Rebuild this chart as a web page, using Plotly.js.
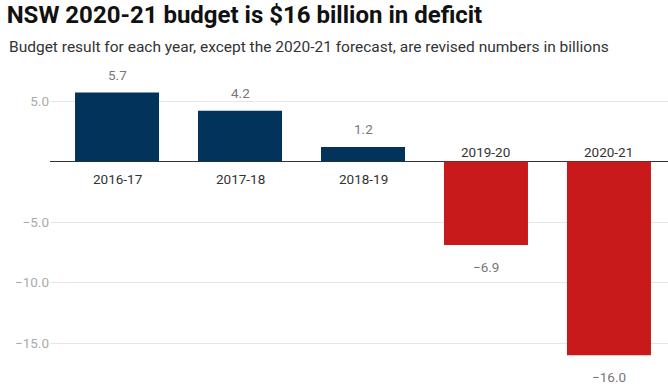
<!DOCTYPE html>
<html>
<head>
<meta charset="utf-8">
<script src="https://cdn.plot.ly/plotly-3.0.1.min.js"></script>
<style>
html,body{margin:0;padding:0;background:#fff;}
#chart{width:668px;height:387px;}
</style>
</head>
<body>
<div id="chart"></div>
<script>
const categories = ["2016-17", "2017-18", "2018-19", "2019-20", "2020-21"];
const values = [5.7, 4.2, 1.2, -6.9, -16.0];
const yTickVals = [-15, -10, -5, 5];
const yTickText = ["\u221215.0", "\u221210.0", "\u22125.0", "5.0"];

const posColor = "#02335b";
const negColor = "#c81a1a";
const xIdx = categories.map((c, i) => i);

const trace = {
  type: "bar",
  x: xIdx,
  y: values,
  width: 0.683,
  marker: {color: values.map(v => v >= 0 ? posColor : negColor)},
  hoverinfo: "skip"
};

const annotations = [];
values.forEach((v, i) => {
  const lab = (v < 0 ? "\u2212" : "") + Math.abs(v).toFixed(1);
  annotations.push({
    x: i, y: v, xref: "x", yref: "y", text: lab, showarrow: false,
    yshift: v >= 0 ? 18 : -22,
    font: {family: "Roboto, sans-serif", size: 13.5, color: "#777"}
  });
  annotations.push({
    x: i, y: 0, xref: "x", yref: "y", text: categories[i], showarrow: false,
    yshift: v >= 0 ? -17 : 10,
    font: {family: "Roboto, sans-serif", size: 13.5, color: "#333"}
  });
});

// subtitle: pixel y 47 from top; plot area top at 60, height 327; left x 8
annotations.push({
  xref: "paper", yref: "paper",
  x: (7 - 50) / 618, y: (387 - 47) / 327, xanchor: "left", yanchor: "middle",
  text: "Budget result for each year, except the 2020-21 forecast, are revised numbers in billions",
  showarrow: false,
  font: {family: "Roboto, sans-serif", size: 15.5, color: "#333"}
});

const layout = {
  width: 668, height: 387,
  margin: {l: 50, r: 0, t: 60, b: 0},
  paper_bgcolor: "#fff", plot_bgcolor: "#fff",
  showlegend: false,
  title: {
    text: "<b>NSW 2020-21 budget is $16 billion in deficit</b>",
    x: 0.01, xanchor: "left", y: 0.963, yanchor: "middle",
    font: {family: "Roboto, sans-serif", size: 24, color: "#111"}
  },
  xaxis: {
    range: [-0.545, 4.48],
    showticklabels: false, showgrid: false, zeroline: false, showline: false,
    fixedrange: true
  },
  yaxis: {
    range: [-18.63, 8.39],
    tickvals: yTickVals, ticktext: yTickText,
    tickfont: {family: "Roboto, sans-serif", size: 13.5, color: "#aaa"},
    showgrid: true, gridcolor: "#e6e6e6", gridwidth: 1,
    zeroline: true, zerolinecolor: "#333", zerolinewidth: 1,
    ticks: "", ticklen: 0, showline: false,
    automargin: false
  },
  annotations: annotations
};

Plotly.newPlot("chart", [trace], layout, {displayModeBar: false, staticPlot: true});
</script>
</body>
</html>
